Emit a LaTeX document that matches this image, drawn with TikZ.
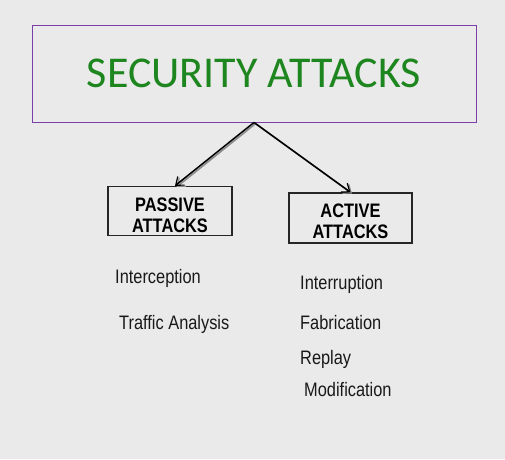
\documentclass[tikz,border=0pt]{standalone}
\usepackage{fontspec}
\setmainfont{Liberation Sans}
\newfontfamily\labfont[FakeStretch=0.84]{Liberation Sans}
\newfontfamily\titlefont{Carlito}
\usetikzlibrary{arrows.meta}
\definecolor{bg}{HTML}{EAEAEA}
\definecolor{titlegreen}{HTML}{1E861E}
\definecolor{titlepurple}{HTML}{7A3FA8}
\tikzset{
  titlebox/.style={draw=titlepurple, line width=0.9pt, minimum width=444pt, minimum height=97pt, inner sep=0pt,
    font=\titlefont\fontsize{44}{48}\selectfont, text=titlegreen},
  attbox/.style={draw=black!85, line width=1.4pt, minimum width=124pt, minimum height=49pt, inner sep=0pt},
  attlabel/.style={inner sep=0pt, align=center, font=\labfont\bfseries\fontsize{19.5}{21}\selectfont},
  item/.style={anchor=base west, inner sep=0pt, font=\labfont\fontsize{19.5}{21}\selectfont, text=black!90},
  conn/.style={line width=1.5pt, -{Straight Barb[length=7pt,width=11pt,line width=1.2pt]}},
  connshadow/.style={line width=1.6pt, draw=black!45, -{Straight Barb[length=7pt,width=11pt,line width=1.2pt]}}
}
\begin{document}
\begin{tikzpicture}[x=1pt,y=-1pt]
\fill[bg] (0,0) rectangle (505,459);
\useasboundingbox (0,0) rectangle (505,459);
\node[titlebox] (title) at (254,73.5) {SECURITY ATTACKS};
\node[attbox] (passive) at (170,211) {};
\node[attbox, minimum width=123pt, minimum height=50pt] (active) at (350.5,218) {};
\node[attlabel] (passivetext) at ([yshift=-4pt]passive.center) {PASSIVE\\ATTACKS};
\node[attlabel] (activetext) at ([yshift=-3.5pt]active.center) {ACTIVE\\ATTACKS};
\coordinate (ptip) at ([xshift=5pt]passive.north);
\coordinate (atip) at (active.north);
\draw[connshadow] ([shift={(1.5pt,-1.2pt)}]title.south) -- ([shift={(1.5pt,-1.2pt)}]ptip);
\draw[connshadow] ([shift={(1.5pt,-1.2pt)}]title.south) -- ([shift={(1.5pt,-1.2pt)}]atip);
\draw[conn] (title.south) -- (ptip);
\draw[conn] (title.south) -- (atip);
\node[item] (i1) at (115,283) {Interception};
\node[item] (i2) at (119,329.5) {Traffic Analysis};
\node[item] (a1) at (300,289) {Interruption};
\node[item] (a2) at (300,329.5) {Fabrication};
\node[item] (a3) at (300,364.5) {Replay};
\node[item] (a4) at (304,396) {Modification};
\end{tikzpicture}
\end{document}
